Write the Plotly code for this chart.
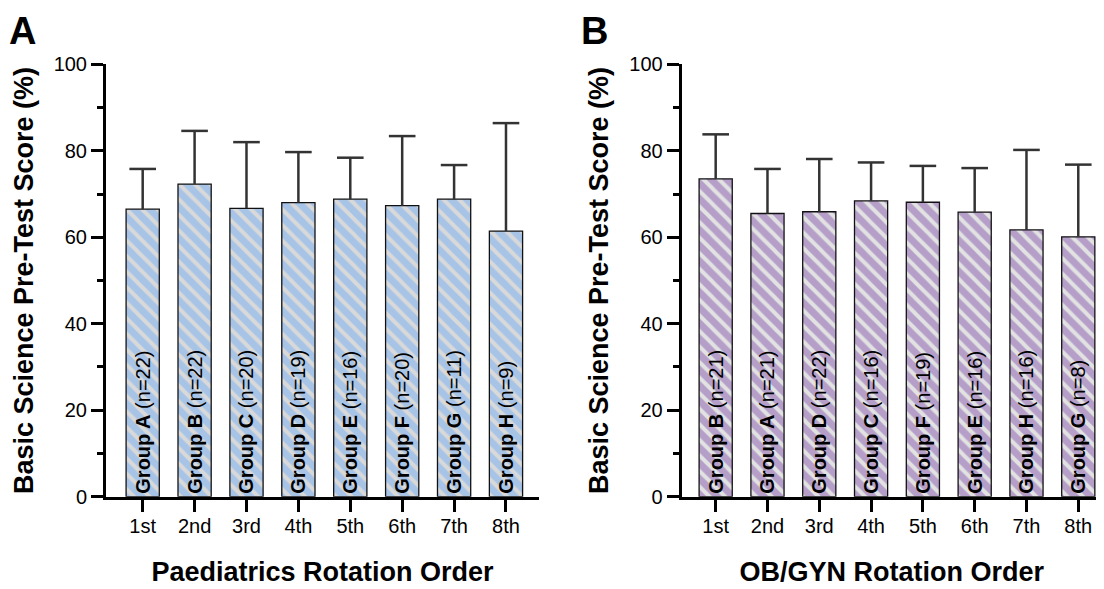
import plotly.graph_objects as go

orders = ["1st", "2nd", "3rd", "4th", "5th", "6th", "7th", "8th"]

# Panel A: Paediatrics
peds_groups = ["A", "B", "C", "D", "E", "F", "G", "H"]
peds_n = [22, 22, 20, 19, 16, 20, 11, 9]
peds_mean = [66.5, 72.3, 66.7, 68.0, 68.8, 67.3, 68.8, 61.4]
peds_sd = [9.3, 12.3, 15.3, 11.7, 9.6, 16.1, 7.9, 25.0]

# Panel B: OB/GYN
obgyn_groups = ["B", "A", "D", "C", "F", "E", "H", "G"]
obgyn_n = [21, 21, 22, 16, 19, 16, 16, 8]
obgyn_mean = [73.5, 65.5, 65.9, 68.4, 68.1, 65.8, 61.7, 60.1]
obgyn_sd = [10.3, 10.3, 12.2, 8.9, 8.4, 10.2, 18.5, 16.7]

FONT = "Arial, Liberation Sans, Helvetica, sans-serif"
ERR_COLOR = "#333333"

# page body has an 8px margin: size the figure to fit and map window px to paper
OFF = 8
W, H = 1104 - OFF, 589 - OFF


def px2x(px):
    return (px - OFF) / W


def px2y(py):
    return 1 - (py - OFF) / H


fig = go.Figure()


def add_panel(fig, groups, ns, means, sds, base, stripe, xa, ya):
    labels = [f"<b>Group {g}</b> (n={n})" for g, n in zip(groups, ns)]
    fig.add_trace(go.Bar(
        x=orders, y=means, width=0.64,
        marker=dict(
            color=base,
            line=dict(color="#111111", width=1.3),
            pattern=dict(shape="\\", fgcolor=stripe, bgcolor=base,
                         size=11, solidity=0.36, fillmode="replace"),
        ),
        text=labels, textposition="inside", insidetextanchor="start",
        textangle=-90, constraintext="none", cliponaxis=False,
        insidetextfont=dict(family=FONT, size=20, color="black"),
        xaxis=xa, yaxis=ya, showlegend=False, hoverinfo="skip",
    ))
    tops = [m + s for m, s in zip(means, sds)]
    fig.add_trace(go.Scatter(
        x=orders, y=tops, mode="markers",
        marker=dict(symbol="line-ew", size=19,
                    line=dict(color=ERR_COLOR, width=2.5), color=ERR_COLOR),
        error_y=dict(type="data", symmetric=False, array=[0] * len(sds),
                     arrayminus=sds, width=0, thickness=2.5, color=ERR_COLOR),
        xaxis=xa, yaxis=ya, showlegend=False, hoverinfo="skip",
        cliponaxis=False,
    ))


add_panel(fig, peds_groups, peds_n, peds_mean, peds_sd,
          "#a7c4e7", "#d9d9d9", "x", "y")
add_panel(fig, obgyn_groups, obgyn_n, obgyn_mean, obgyn_sd,
          "#b59fc9", "#e2e2e2", "x2", "y2")

ydom = [px2y(496.7), px2y(64.3)]

xcommon = dict(
    type="category", showline=True, linecolor="black", linewidth=3,
    ticks="outside", ticklen=12, tickwidth=3, tickcolor="black",
    ticklabelstandoff=-3,
    tickfont=dict(family=FONT, size=20, color="black"),
    showgrid=False, zeroline=False, fixedrange=True, automargin=False,
)
ycommon = dict(
    range=[0, 100], dtick=20, tick0=0, showline=True, linecolor="black",
    linewidth=3, ticks="outside", ticklen=12, tickwidth=3, tickcolor="black",
    tickfont=dict(family=FONT, size=20, color="black"),
    minor=dict(dtick=10, ticks="outside", ticklen=6, tickwidth=3,
               tickcolor="black", showgrid=False),
    showgrid=False, zeroline=False, fixedrange=True, domain=ydom,
    automargin=False,
)
ytitle = "<b>Basic Science Pre-Test Score (%)</b>"
TFONT = dict(family=FONT, size=27, color="black")

fig.update_layout(
    width=W, height=H, autosize=False,
    margin=dict(l=0, r=0, t=0, b=0, pad=0, autoexpand=False),
    paper_bgcolor="white", plot_bgcolor="white",
    xaxis=dict(xcommon, domain=[px2x(106), px2x(539)], range=[-0.707, 7.636],
               anchor="y",
               title=dict(text="<b>Paediatrics Rotation Order</b>",
                          font=TFONT, standoff=27)),
    yaxis=dict(ycommon, anchor="x",
               title=dict(text=ytitle, font=TFONT, standoff=13)),
    xaxis2=dict(xcommon, domain=[px2x(681.7), px2x(1102)],
                range=[-0.656, 7.458], anchor="y2",
                title=dict(text="<b>OB/GYN Rotation Order</b>",
                           font=TFONT, standoff=27)),
    yaxis2=dict(ycommon, anchor="x2",
                title=dict(text=ytitle, font=TFONT, standoff=13)),
    annotations=[
        dict(text="<b>A</b>", x=px2x(8), y=px2y(31), xref="paper",
             yref="paper", xanchor="left", yanchor="middle", showarrow=False,
             borderpad=0, font=dict(family=FONT, size=38, color="black")),
        dict(text="<b>B</b>", x=px2x(580), y=px2y(31), xref="paper",
             yref="paper", xanchor="left", yanchor="middle", showarrow=False,
             borderpad=0, font=dict(family=FONT, size=38, color="black")),
    ],
)

fig.write_html("out.html")
